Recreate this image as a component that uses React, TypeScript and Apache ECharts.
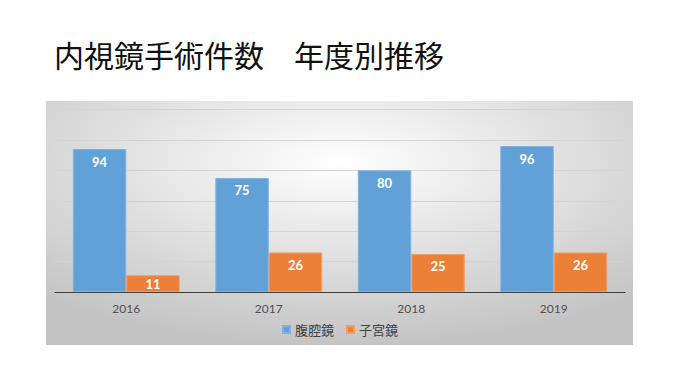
import React, { useEffect, useRef } from "react";
import * as echarts from "echarts";

const categories = ["2016", "2017", "2018", "2019"];
const laparoscopy = [94, 75, 80, 96];
const hysteroscopy = [11, 26, 25, 26];
const seriesNames = ["腹腔鏡", "子宮鏡"];
const titleText = "内視鏡手術件数　年度別推移";

export default function App() {
  const ref = useRef<HTMLDivElement>(null);
  useEffect(() => {
    if (!ref.current) return;
    const chart = echarts.init(ref.current, null, { renderer: "svg" });
    const labelStyle = {
      show: true,
      position: "insideTop" as const,
      distance: 6,
      color: "#ffffff",
      fontWeight: "bold" as const,
      fontSize: 13,
      fontFamily: "Lato, 'Open Sans', sans-serif",
    };
    const withSmallLabels = (arr: number[]) =>
      arr.map((v) => (v < 15 ? { value: v, label: { position: "inside" } } : v));
    chart.setOption({
      animation: false,
      backgroundColor: "#ffffff",
      graphic: [
        {
          type: "rect",
          z: -10,
          silent: true,
          shape: { x: 46, y: 101, width: 587, height: 244 },
          style: {
            fill: {
              type: "radial",
              x: 0.5,
              y: 0.25,
              r: 0.75,
              colorStops: [
                { offset: 0, color: "#ffffff" },
                { offset: 1, color: "#c4c4c4" },
              ],
            },
          },
        },
        {
          type: "text",
          left: 54,
          top: 39,
          style: {
            text: titleText,
            fontSize: 30,
            fontFamily: "'Noto Sans CJK JP', sans-serif",
            fill: "#111111",
          },
        },
      ],
      legend: {
        data: seriesNames,
        bottom: 42,
        left: "center",
        itemWidth: 7,
        itemHeight: 7,
        itemGap: 12,
        icon: "rect",
        textStyle: {
          color: "#404040",
          fontSize: 13,
          fontFamily: "'Noto Sans CJK JP', sans-serif",
        },
      },
      grid: { left: 55, right: 55, top: 109.5, bottom: 91, containLabel: false },
      xAxis: {
        type: "category",
        data: categories,
        axisLine: { lineStyle: { color: "#404040", width: 1 } },
        axisTick: { show: false },
        axisLabel: {
          color: "#505050",
          fontSize: 12,
          margin: 10,
          fontFamily: "Lato, 'Open Sans', sans-serif",
        },
      },
      yAxis: {
        type: "value",
        min: 0,
        max: 120,
        interval: 20,
        axisLabel: { show: false },
        axisLine: { show: false },
        axisTick: { show: false },
        splitLine: { lineStyle: { color: "#d4d4d4", width: 1 } },
      },
      series: [
        {
          name: seriesNames[0],
          type: "bar",
          data: withSmallLabels(laparoscopy),
          barWidth: "37.5%",
          barGap: "0%",
          barCategoryGap: "25%",
          itemStyle: { color: "#62a0d8", borderColor: "#7fb1e2", borderWidth: 1 },
          label: labelStyle,
        },
        {
          name: seriesNames[1],
          type: "bar",
          data: withSmallLabels(hysteroscopy),
          barWidth: "37.5%",
          barGap: "0%",
          itemStyle: { color: "#ed8038", borderColor: "#f29c62", borderWidth: 1 },
          label: labelStyle,
        },
      ],
    });
    return () => chart.dispose();
  }, []);
  return (
    <div
      ref={ref}
      style={{ position: "fixed", left: 0, top: 0, width: 680, height: 383 }}
    />
  );
}
